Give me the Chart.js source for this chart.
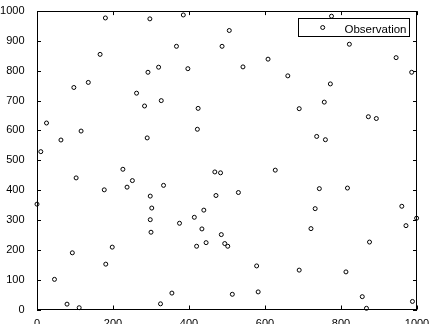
<!DOCTYPE html>
<html>
<head>
<meta charset="utf-8">
<script src="https://cdn.jsdelivr.net/npm/chart.js@4/dist/chart.umd.min.js"></script>
<style>
  html, body { margin: 0; padding: 0; background: #fff; }
  #wrap { width: 430px; height: 324px; }
</style>
</head>
<body>
<div id="wrap"><canvas id="chart" width="430" height="324"></canvas></div>
<script>
// observation points
const obsX = [10, 25, 63, 97, 116, 135, 166, 180, 262, 283, 290, 292, 297, 320, 327, 367, 385, 397, 424, 422,
  506, 487, 542, 608, 660, 775, 822, 945, 986, 772, 756, 690, 872, 893, 736, 759,
  0, 103, 46, 93, 79, 111, 177, 181, 198, 226, 237, 251, 298, 302, 298, 300, 333, 325, 355, 375, 414, 439, 434, 420, 445,
  468, 483, 471, 530, 627, 485, 494, 502, 514, 578, 582, 690, 743, 732, 721, 817, 813, 856, 867, 875, 960, 971, 999, 988];
const obsY = [529, 625, 568, 744, 598, 761, 855, 977, 725, 682, 575, 795, 974, 812, 700, 882, 987, 807, 674, 604,
  935, 882, 813, 839, 783, 983, 889, 844, 795, 756, 695, 673, 646, 640, 580, 569,
  353, 441, 101, 190, 18, 6, 401, 152, 209, 470, 410, 432, 380, 340, 301, 259, 416, 19, 55, 289, 309, 333, 270, 212, 224,
  461, 458, 382, 392, 467, 251, 221, 212, 51, 146, 59, 132, 405, 338, 271, 407, 126, 43, 4, 226, 346, 281, 306, 27];
const xTicks = [0, 200, 400, 600, 800, 1000];
const yTicks = [0, 100, 200, 300, 400, 500, 600, 700, 800, 900, 1000];
const seriesName = 'Observation';

const points = obsX.map((x, i) => ({ x: x, y: obsY[i] }));
const FONT = 'Liberation Sans, Arial, sans-serif';

// box around the axes + inward ticks + legend, matlab style
const boxPlugin = {
  id: 'box',
  afterDraw(chart) {
    const ctx = chart.ctx;
    const a = chart.chartArea;
    const xs = chart.scales.x, ys = chart.scales.y;
    ctx.save();
    ctx.strokeStyle = '#000';
    ctx.lineWidth = 1;
    ctx.strokeRect(Math.round(a.left) + 0.5, Math.round(a.top) + 0.5,
      Math.round(a.right - a.left) - 1, Math.round(a.bottom - a.top));
    ctx.beginPath();
    xTicks.forEach(v => {
      const px = Math.round(xs.getPixelForValue(v)) + 0.5;
      ctx.moveTo(px, a.bottom); ctx.lineTo(px, a.bottom - 4);
      ctx.moveTo(px, a.top); ctx.lineTo(px, a.top + 4);
    });
    yTicks.forEach(v => {
      const py = Math.round(ys.getPixelForValue(v)) + 0.5;
      ctx.moveTo(a.left, py); ctx.lineTo(a.left + 4, py);
      ctx.moveTo(a.right, py); ctx.lineTo(a.right - 4, py);
    });
    ctx.stroke();

    // legend
    const lx = Math.round(a.right - 119.5) + 0.5, ly = Math.round(a.top + 6.5) + 0.5;
    ctx.fillStyle = '#fff';
    ctx.fillRect(lx, ly, 111, 18);
    ctx.strokeRect(lx, ly, 111, 18);
    ctx.beginPath();
    ctx.arc(lx + 24.2, ly + 9, 2, 0, Math.PI * 2);
    ctx.stroke();
    ctx.fillStyle = '#000';
    ctx.font = '11.5px ' + FONT;
    ctx.textBaseline = 'alphabetic';
    ctx.fillText(seriesName, lx + 46, ly + 14);
    ctx.restore();
  }
};

new Chart(document.getElementById('chart').getContext('2d'), {
  type: 'scatter',
  data: {
    datasets: [{
      label: seriesName,
      data: points,
      pointRadius: 2,
      pointHoverRadius: 2,
      pointBorderWidth: 1,
      pointBorderColor: '#000',
      pointBackgroundColor: '#fff',
      clip: false
    }]
  },
  options: {
    responsive: false,
    animation: false,
    events: [],
    layout: { padding: { top: 10, right: 13, left: 0, bottom: 0 } },
    plugins: { legend: { display: false }, tooltip: { enabled: false } },
    scales: {
      x: {
        type: 'linear', min: 0, max: 1000,
        afterBuildTicks: s => { s.ticks = xTicks.map(v => ({ value: v })); },
        afterFit: s => { s.height = 14.5; },
        grid: { display: false },
        border: { display: false },
        ticks: { color: '#000', font: { family: FONT, size: 11 }, padding: 0, autoSkip: false, maxRotation: 0,
          callback: v => String(v) }
      },
      y: {
        type: 'linear', min: 0, max: 1000,
        afterBuildTicks: s => { s.ticks = yTicks.map(v => ({ value: v })); },
        afterFit: s => { s.width = 37; },
        grid: { display: false },
        border: { display: false },
        ticks: { color: '#000', font: { family: FONT, size: 11 }, padding: 4.5, autoSkip: false,
          callback: v => String(v) }
      }
    }
  },
  plugins: [boxPlugin]
});
</script>
</body>
</html>
